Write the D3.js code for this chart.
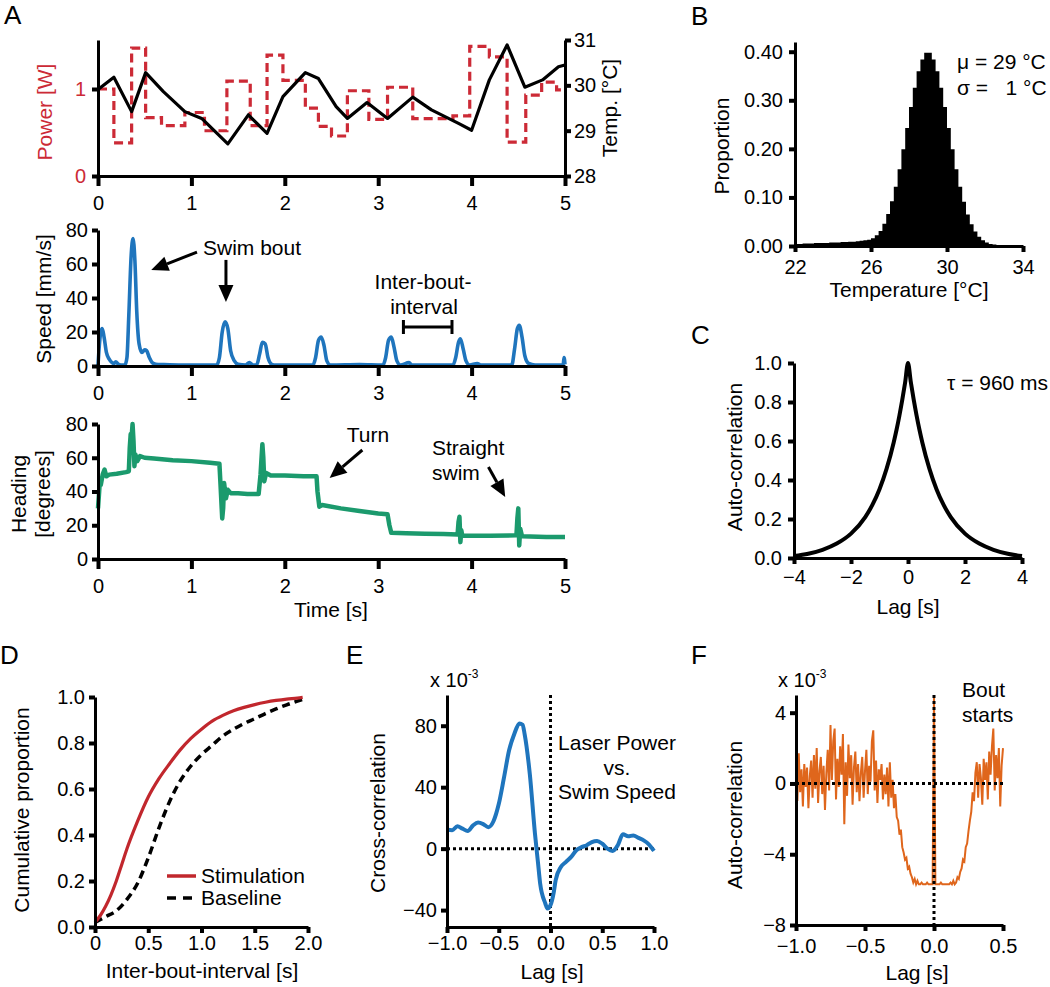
<!DOCTYPE html>
<html><head><meta charset="utf-8">
<script src="https://cdn.jsdelivr.net/npm/d3@7"></script>
<style>
body{margin:0;background:#fff}
svg text{font-family:"Liberation Sans",Arial,sans-serif}
</style></head><body>
<svg id="fig" width="1050" height="987"></svg>
<script>
// ---------------- DATA ----------------
// Panel A (top): laser power steps [time s, W] and temperature [time s, °C]
const powerSteps = [[0,1.0],[0.17,0.38],[0.36,1.47],[0.51,0.67],[0.68,0.58],[0.93,0.73],[1.14,0.52],[1.38,1.09],[1.63,0.58],[1.81,1.39],[1.98,1.10],[2.22,0.78],[2.36,0.57],[2.50,0.46],[2.67,0.98],[2.90,0.65],[3.10,1.02],[3.37,0.66],[3.80,0.69],[3.98,1.49],[4.19,1.37],[4.38,0.39],[4.58,0.93],[4.75,1.08],[4.91,0.99],[5.0,0.99]];
const temperature = [[0,29.91],[0.17,30.18],[0.36,29.42],[0.51,30.28],[0.70,29.86],[0.93,29.42],[1.11,29.27],[1.39,28.71],[1.61,29.35],[1.81,28.94],[1.98,29.75],[2.22,30.28],[2.36,30.15],[2.55,29.53],[2.67,29.27],[2.88,29.62],[3.10,29.27],[3.37,29.74],[3.57,29.46],[3.86,29.16],[4.00,29.01],[4.19,30.12],[4.38,30.89],[4.57,29.96],[4.76,30.12],[4.93,30.41],[5.00,30.45]];
// Panel A (middle): swim speed [time s, mm/s]
const speed = [[0,0.5],[0.01,9],[0.03,20],[0.045,22],[0.065,17],[0.09,8],[0.12,4],[0.15,2],[0.17,1.5],[0.19,2.5],[0.22,1],[0.26,0.5],[0.29,0.8],[0.31,5],[0.33,30],[0.355,65],[0.375,75],[0.395,62],[0.415,32],[0.44,13],[0.47,8],[0.5,9.5],[0.52,9],[0.55,5],[0.58,2],[0.62,1],[0.7,0.8],[0.9,0.5],[1.1,0.5],[1.27,0.5],[1.3,5],[1.33,20],[1.36,26],[1.39,22],[1.42,9],[1.46,3],[1.5,1],[1.58,0.5],[1.62,2],[1.66,0.5],[1.7,0.8],[1.73,7],[1.76,14],[1.79,13],[1.82,5],[1.86,1],[1.9,0.5],[2.3,0.5],[2.33,5],[2.36,15],[2.39,17],[2.42,12],[2.45,3],[2.49,0.5],[2.8,0.8],[3.05,0.5],[3.08,5],[3.11,15],[3.14,17],[3.17,11],[3.2,3],[3.24,0.5],[3.33,2],[3.36,0.5],[3.8,0.5],[3.83,5],[3.86,14],[3.88,16],[3.91,10],[3.94,3],[3.98,0.5],[4.06,1.5],[4.1,0.5],[4.43,0.5],[4.46,10],[4.49,22],[4.51,24],[4.54,17],[4.57,6],[4.61,1.5],[4.68,0.5],[4.98,0.5],[4.99,5],[5,1]];
// Panel A (bottom): heading [time s, degrees]
const heading = [[0,30],[0.01,38],[0.02,46],[0.03,44],[0.05,50],[0.07,53],[0.09,49],[0.12,50],[0.2,50.5],[0.3,51.5],[0.33,52],[0.34,66],[0.35,74],[0.36,72],[0.37,80],[0.38,70],[0.39,55],[0.4,62],[0.42,58],[0.45,61],[0.5,60],[0.6,59.5],[0.8,58.5],[1.0,58],[1.2,57],[1.3,56.5],[1.31,46],[1.33,24],[1.34,30],[1.35,45],[1.37,36],[1.39,41],[1.42,39],[1.5,39],[1.6,38.5],[1.72,38.5],[1.74,50],[1.76,68],[1.77,60],[1.78,46],[1.8,51],[1.85,49.5],[2.0,49.5],[2.2,49],[2.34,49],[2.35,40],[2.37,31],[2.4,32],[2.6,30],[2.8,28.5],[3.0,27],[3.1,26.5],[3.12,20],[3.14,15.5],[3.3,15.3],[3.5,15],[3.7,14.8],[3.85,14.5],[3.86,22],[3.87,25],[3.88,10],[3.89,17],[3.9,13.8],[4.2,13.8],[4.48,14],[4.49,24],[4.5,30],[4.51,8],[4.52,18],[4.54,13.5],[4.8,13],[5,13]];
// Panel B: temperature histogram, bin start (°C) and proportion (bin width 0.2 °C)
const histBinStart = [22.0,22.2,22.4,22.6,22.8,23.0,23.2,23.4,23.6,23.8,24.0,24.2,24.4,24.6,24.8,25.0,25.2,25.4,25.6,25.8,26.0,26.2,26.4,26.6,26.8,27.0,27.2,27.4,27.6,27.8,28.0,28.2,28.4,28.6,28.8,29.0,29.2,29.4,29.6,29.8,30.0,30.2,30.4,30.6,30.8,31.0,31.2,31.4,31.6,31.8,32.0,32.2,32.4,32.6,32.8,33.0,33.2,33.4,33.6,33.8];
const histProp = [0.004,0.004,0.005,0.005,0.005,0.006,0.006,0.006,0.006,0.007,0.007,0.007,0.008,0.008,0.009,0.009,0.010,0.011,0.012,0.013,0.016,0.022,0.031,0.046,0.066,0.092,0.122,0.158,0.199,0.243,0.286,0.326,0.360,0.384,0.398,0.398,0.384,0.360,0.326,0.286,0.243,0.199,0.158,0.122,0.091,0.065,0.045,0.030,0.019,0.012,0.007,0.004,0.003,0.002,0.001,0.001,0.001,0,0,0];
// Panel C: temperature auto-correlation [lag s, r]
const autoCorrC = [[-4,0.010],[-3.5,0.022],[-3,0.042],[-2.5,0.074],[-2,0.125],[-1.5,0.210],[-1.25,0.272],[-1,0.353],[-0.75,0.458],[-0.5,0.594],[-0.4,0.659],[-0.3,0.732],[-0.2,0.812],[-0.1,0.901],[0,1],[0.1,0.901],[0.2,0.812],[0.3,0.732],[0.4,0.659],[0.5,0.594],[0.75,0.458],[1,0.353],[1.25,0.272],[1.5,0.210],[2,0.125],[2.5,0.074],[3,0.042],[3.5,0.022],[4,0.010]];
// Panel D: cumulative inter-bout-interval distributions [s, proportion]
const stimulationCdf = [[0,0.02],[0.05,0.05],[0.1,0.09],[0.15,0.14],[0.2,0.2],[0.25,0.27],[0.3,0.34],[0.4,0.46],[0.5,0.565],[0.6,0.645],[0.7,0.71],[0.8,0.77],[0.9,0.82],[1.0,0.86],[1.1,0.895],[1.2,0.92],[1.3,0.94],[1.4,0.955],[1.5,0.967],[1.6,0.977],[1.7,0.985],[1.8,0.991],[1.9,0.995],[1.95,0.998]];
const baselineCdf = [[0,0.02],[0.1,0.045],[0.2,0.07],[0.3,0.12],[0.4,0.19],[0.5,0.3],[0.6,0.43],[0.7,0.545],[0.8,0.635],[0.9,0.7],[1.0,0.75],[1.1,0.79],[1.2,0.83],[1.3,0.86],[1.4,0.885],[1.5,0.906],[1.6,0.928],[1.7,0.948],[1.8,0.966],[1.9,0.982],[1.95,0.99]];
const legendD = ["Stimulation","Baseline"];
// Panel E: cross-correlation laser power vs swim speed [lag s, x1e-3]
const crossCorr = [[-1,12.3],[-0.95,12],[-0.9,14.5],[-0.85,13],[-0.8,11.5],[-0.75,15],[-0.7,17],[-0.65,16],[-0.6,14],[-0.55,18],[-0.5,29],[-0.45,46],[-0.4,64],[-0.35,74.6],[-0.3,81.5],[-0.27,80.6],[-0.25,74.6],[-0.2,48.6],[-0.15,9.7],[-0.12,-9.7],[-0.1,-22.7],[-0.05,-35.7],[-0.03,-39],[0,-36.8],[0.03,-29],[0.05,-20.5],[0.1,-12],[0.15,-8.6],[0.2,-5.4],[0.25,-1],[0.3,1],[0.35,2.2],[0.4,4.3],[0.45,5],[0.5,3.2],[0.55,0],[0.6,-1.5],[0.65,2.2],[0.7,9.3],[0.75,8],[0.8,8.6],[0.85,7],[0.9,5.4],[0.95,2.8],[1.0,-1.5]];
// Panel F: bout-start auto-correlation (x1e-3), lags -1.00 .. 0.50 in 0.01 s steps
const fLagStart = -1.0, fLagStep = 0.01;
const boutAutoCorr = [1.2,-1.0,1.7,-0.5,0.8,-1.3,1.1,-0.2,0.9,-1.4,
 0.4,1.3,-0.8,1.6,-0.3,2.0,-1.1,0.7,1.5,-0.6,
 1.0,-1.5,0.6,1.9,-0.4,3.3,0.2,2.4,3.1,-0.9,
 1.4,-0.2,2.1,0.5,2.8,-2.3,1.2,-0.7,2.2,0.3,
 1.6,-1.2,0.9,1.8,-0.5,1.1,-1.0,0.6,1.5,-0.8,
 0.7,1.9,-0.6,1.0,0.1,2.4,3.0,-0.4,1.3,-1.1,
 0.8,0.2,1.1,-0.9,0.5,-0.6,0.9,-1.3,1.2,-0.8,
 0.2,-1.4,-0.6,-1.9,-2.1,-2.9,-2.6,-3.6,-3.9,-4.3,
 -4.2,-4.8,-4.7,-5.1,-5.3,-5.6,-5.4,-5.7,-5.5,-5.7,
 -5.7,-5.6,-5.7,-5.7,-5.7,-5.6,-5.7,-5.7,-5.7,-5.7,
 5.0,
 -5.7,-5.7,-5.7,-5.7,-5.6,-5.7,-5.7,-5.7,-5.7,-5.7,
 -5.7,-5.6,-5.7,-5.5,-5.7,-5.6,-5.3,-5.4,-5.0,-4.8,
 -4.3,-4.4,-3.6,-3.4,-2.7,-2.1,-1.6,-0.5,-1.0,0.6,
 1.2,-0.8,1.1,0.3,-1.2,1.4,0.2,1.2,-0.9,1.8,
 0.5,2.1,3.1,-0.4,1.6,0.3,2.0,-1.3,1.0,2.0];
// Tick values
const timeTicks = [0,1,2,3,4,5];
const powerTicks = [0,1];
const tempTicks = [28,29,30,31];
const speedTicks = [0,20,40,60,80];
const headingTicks = [0,20,40,60,80];
const bXTicks = [22,26,30,34], bYTicks = [0,0.1,0.2,0.3,0.4];
const cXTicks = [-4,-2,0,2,4], cYTicks = [0,0.2,0.4,0.6,0.8,1.0];
const dXTicks = [0,0.5,1,1.5,2], dYTicks = [0,0.2,0.4,0.6,0.8,1.0];
const eXTicks = [-1,-0.5,0,0.5,1], eYTicks = [-40,0,40,80];
const fXTicks = [-1,-0.5,0,0.5], fYTicks = [-8,-4,0,4];

// ---------------- DRAWING ----------------
const FF = '"Liberation Sans", Arial, sans-serif';
const RED = "#cc2a36", BLUE = "#1f75bd", GREEN = "#1b9a6d", ORANGE = "#df661c", DRED = "#c1272d";
const svg = d3.select("#fig");
svg.append("rect").attr("width",1050).attr("height",987).attr("fill","#fff");
const fmtInt = d3.format("d");

function drawAxis(axis, tx, ty, color) {
  const g = svg.append("g").attr("transform", `translate(${tx},${ty})`).call(axis);
  g.attr("font-size", 20).attr("font-family", FF);
  g.select(".domain").attr("stroke", "#000").attr("stroke-width", 3);
  g.selectAll(".tick line").attr("stroke", "#000").attr("stroke-width", 4);
  g.selectAll(".tick text").attr("fill", color || "#000");
  return g;
}
function txt(x, y, s, o = {}) {
  return svg.append("text").attr("x", x).attr("y", y)
    .attr("font-size", o.size || 21).attr("fill", o.color || "#000")
    .attr("text-anchor", o.anchor || "start").style("white-space", "pre").text(s);
}
function ytitle(x, y, s, color) {
  svg.append("text").attr("transform", `translate(${x},${y}) rotate(-90)`)
    .attr("text-anchor", "middle").attr("dy", "0.35em")
    .attr("font-size", 21).attr("fill", color || "#000").text(s);
}
function arrow(x1, y1, x2, y2) {
  const a = Math.atan2(y2 - y1, x2 - x1), L = 17, W = 7.5;
  const bx = x2 - L * Math.cos(a), by = y2 - L * Math.sin(a);
  svg.append("line").attr("x1", x1).attr("y1", y1).attr("x2", bx).attr("y2", by)
    .attr("stroke", "#000").attr("stroke-width", 3);
  const p = [[x2, y2], [bx + W * Math.sin(a), by - W * Math.cos(a)], [bx - W * Math.sin(a), by + W * Math.cos(a)]];
  svg.append("path").attr("d", "M" + p.join("L") + "Z").attr("fill", "#000");
}
function sup(x, y) {
  const t = svg.append("text").attr("x", x).attr("y", y).attr("font-size", 20);
  t.append("tspan").text("x 10");
  t.append("tspan").attr("font-size", 12).attr("dy", -9).text("-3");
}
function letter(x, y, s) { txt(x, y, s, { size: 26 }); }

// ===== Panel A =====
const xA = d3.scaleLinear([0, 5], [98, 565]);
const yPow = d3.scaleLinear([0, 1], [176, 89]);
const yTemp = d3.scaleLinear([28, 31], [176, 40]);
const yPowAxis = d3.scaleLinear([0, 136 / 87], [176, 40]);
letter(4, 24, "A");

svg.append("path").datum(powerSteps)
  .attr("d", d3.line().x(d => xA(d[0])).y(d => yPow(d[1])).curve(d3.curveStepAfter))
  .attr("fill", "none").attr("stroke", RED).attr("stroke-width", 3.2).attr("stroke-dasharray", "9,5");
svg.append("path").datum(temperature)
  .attr("d", d3.line().x(d => xA(d[0])).y(d => yTemp(d[1])))
  .attr("fill", "none").attr("stroke", "#000").attr("stroke-width", 3.2).attr("stroke-linejoin", "round");
drawAxis(d3.axisBottom(xA).tickValues(timeTicks).tickFormat(fmtInt).tickSize(10).tickPadding(10).tickSizeOuter(0), 0, 176);
drawAxis(d3.axisLeft(yPowAxis).tickValues(powerTicks).tickFormat(fmtInt).tickSize(6).tickPadding(6).tickSizeOuter(0), 98, 0, RED);
drawAxis(d3.axisRight(yTemp).tickValues(tempTicks).tickFormat(fmtInt).tickSize(6).tickPadding(3).tickSizeOuter(0), 565, 0);
ytitle(45, 112, "Power [W]", RED);
ytitle(610, 108, "Temp. [°C]");

// speed
const ySpd = d3.scaleLinear([0, 80], [366, 230]);
svg.append("path").datum(speed)
  .attr("d", d3.line().x(d => xA(d[0])).y(d => ySpd(d[1])).curve(d3.curveMonotoneX))
  .attr("fill", "none").attr("stroke", BLUE).attr("stroke-width", 3.6).attr("stroke-linejoin", "round");
drawAxis(d3.axisBottom(xA).tickValues(timeTicks).tickFormat(fmtInt).tickSize(10).tickPadding(10).tickSizeOuter(0), 0, 366);
drawAxis(d3.axisLeft(ySpd).tickValues(speedTicks).tickSize(6).tickPadding(4).tickSizeOuter(0), 98, 0);
ytitle(44, 299, "Speed [mm/s]");
txt(203, 255, "Swim bout");
arrow(xA(1.06), ySpd(67), xA(0.57), ySpd(56.5));
arrow(xA(1.37), ySpd(62.4), xA(1.37), ySpd(37.6));
txt(423, 289, "Inter-bout-", { anchor: "middle" });
txt(424, 314, "interval", { anchor: "middle" });
const br = [3.27, 3.79], brY = ySpd(23);
svg.append("path").attr("d", `M${xA(br[0])},${brY}H${xA(br[1])}M${xA(br[0])},${brY - 7}V${brY + 7}M${xA(br[1])},${brY - 7}V${brY + 7}`)
  .attr("stroke", "#000").attr("stroke-width", 3).attr("fill", "none");

// heading
const yHead = d3.scaleLinear([0, 80], [559, 424]);
svg.append("path").datum(heading)
  .attr("d", d3.line().x(d => xA(d[0])).y(d => yHead(d[1])))
  .attr("fill", "none").attr("stroke", GREEN).attr("stroke-width", 4.5).attr("stroke-linejoin", "round");
drawAxis(d3.axisBottom(xA).tickValues(timeTicks).tickFormat(fmtInt).tickSize(10).tickPadding(10).tickSizeOuter(0), 0, 559);
drawAxis(d3.axisLeft(yHead).tickValues(headingTicks).tickSize(6).tickPadding(4).tickSizeOuter(0), 98, 0);
ytitle(19, 494, "Heading");
ytitle(43, 494, "[degrees]");
txt(331, 617, "Time [s]", { anchor: "middle" });
txt(368, 442, "Turn", { anchor: "middle" });
arrow(xA(2.83), yHead(64.6), xA(2.48), yHead(48));
txt(432, 455, "Straight");
txt(432, 480, "swim");
arrow(xA(4.18), yHead(54.5), xA(4.36), yHead(36.7));

// ===== Panel B =====
const xB = d3.scaleLinear([22, 34], [795, 1023]);
const yB = d3.scaleLinear([0, 0.42], [246, 42]);
letter(691, 25, "B");
const histPts = histBinStart.map((b, i) => [b, histProp[i]]).concat([[34, 0]]);
svg.append("path").datum(histPts)
  .attr("d", d3.area().x(d => xB(d[0])).y0(yB(0)).y1(d => yB(d[1])).curve(d3.curveStepAfter))
  .attr("fill", "#000");
drawAxis(d3.axisBottom(xB).tickValues(bXTicks).tickSize(6).tickPadding(8).tickSizeOuter(0), 0, 246);
drawAxis(d3.axisLeft(yB).tickValues(bYTicks).tickFormat(d3.format(".2f")).tickSize(6).tickPadding(6).tickSizeOuter(0), 795, 0);
ytitle(722, 146, "Proportion");
txt(909, 297, "Temperature [°C]", { anchor: "middle" });
txt(957, 69, "μ = 29 °C");
txt(957, 95, "σ =   1 °C");

// ===== Panel C =====
const xC = d3.scaleLinear([-4, 4], [794, 1022]);
const yC = d3.scaleLinear([0, 1], [558, 363]);
letter(691, 344, "C");
svg.append("path").datum(autoCorrC)
  .attr("d", d3.line().x(d => xC(d[0])).y(d => yC(d[1])).curve(d3.curveMonotoneX))
  .attr("fill", "none").attr("stroke", "#000").attr("stroke-width", 4).attr("stroke-linejoin", "round");
drawAxis(d3.axisBottom(xC).tickValues(cXTicks).tickFormat(fmtInt).tickSize(6).tickPadding(6).tickSizeOuter(0), 0, 558);
drawAxis(d3.axisLeft(yC).tickValues(cYTicks).tickFormat(d3.format(".1f")).tickSize(6).tickPadding(6).tickSizeOuter(0), 794, 0);
ytitle(735, 457, "Auto-correlation");
txt(908, 614, "Lag [s]", { anchor: "middle" });
txt(947, 390, "τ = 960 ms");

// ===== Panel D =====
const xD = d3.scaleLinear([0, 2], [95, 308]);
const yD = d3.scaleLinear([0, 1], [927, 697]);
letter(0, 664, "D");
svg.append("path").datum(baselineCdf)
  .attr("d", d3.line().x(d => xD(d[0])).y(d => yD(d[1])).curve(d3.curveMonotoneX))
  .attr("fill", "none").attr("stroke", "#000").attr("stroke-width", 3.5).attr("stroke-dasharray", "8,5");
svg.append("path").datum(stimulationCdf)
  .attr("d", d3.line().x(d => xD(d[0])).y(d => yD(d[1])).curve(d3.curveMonotoneX))
  .attr("fill", "none").attr("stroke", DRED).attr("stroke-width", 3.2);
drawAxis(d3.axisBottom(xD).tickValues(dXTicks).tickFormat(d => d === 0 ? "0" : d3.format(".1f")(d)).tickSize(6).tickPadding(3).tickSizeOuter(0), 0, 927);
drawAxis(d3.axisLeft(yD).tickValues(dYTicks).tickFormat(d3.format(".1f")).tickSize(6).tickPadding(4).tickSizeOuter(0), 95, 0);
ytitle(22, 810, "Cumulative proportion");
txt(202, 978, "Inter-bout-interval [s]", { anchor: "middle" });
legendD.forEach((name, i) => {
  const ly = 876 + i * 22;
  svg.append("line").attr("x1", 167).attr("x2", 196).attr("y1", ly).attr("y2", ly)
    .attr("stroke", i === 0 ? DRED : "#000").attr("stroke-width", 3.5)
    .attr("stroke-dasharray", i === 0 ? null : "9,7");
  txt(201, ly + 7, name);
});

// ===== Panel E =====
const xE = d3.scaleLinear([-1, 1], [447, 654]);
const yE = d3.scaleLinear([-51, 100], [927, 695]);
letter(346, 664, "E");
svg.append("line").attr("x1", xE(-1)).attr("x2", xE(1)).attr("y1", yE(0)).attr("y2", yE(0))
  .attr("stroke", "#000").attr("stroke-width", 3).attr("stroke-dasharray", "3,3");
svg.append("line").attr("x1", xE(0)).attr("x2", xE(0)).attr("y1", yE(100)).attr("y2", yE(-51))
  .attr("stroke", "#000").attr("stroke-width", 3).attr("stroke-dasharray", "3,3");
svg.append("path").datum(crossCorr)
  .attr("d", d3.line().x(d => xE(d[0])).y(d => yE(d[1])).curve(d3.curveMonotoneX))
  .attr("fill", "none").attr("stroke", BLUE).attr("stroke-width", 4).attr("stroke-linejoin", "round");
drawAxis(d3.axisBottom(xE).tickValues(eXTicks).tickFormat(d3.format(".1f")).tickSize(6).tickPadding(3).tickSizeOuter(0), 0, 927);
drawAxis(d3.axisLeft(yE).tickValues(eYTicks).tickSize(6).tickPadding(4).tickSizeOuter(0), 447, 0);
ytitle(378, 813, "Cross-correlation");
txt(552, 979, "Lag [s]", { anchor: "middle" });
sup(430, 687);
txt(617, 750, "Laser Power", { anchor: "middle" });
txt(617, 775, "vs.", { anchor: "middle" });
txt(617, 799, "Swim Speed", { anchor: "middle" });

// ===== Panel F =====
const xF = d3.scaleLinear([-1, 0.5], [796, 1003]);
const yF = d3.scaleLinear([-8, 5], [925, 695]);
letter(691, 664, "F");
const fPts = boutAutoCorr.map((v, i) => [fLagStart + i * fLagStep, v]);
svg.append("path").datum(fPts)
  .attr("d", d3.line().x(d => xF(d[0])).y(d => yF(d[1])))
  .attr("fill", "none").attr("stroke", ORANGE).attr("stroke-width", 2);
svg.append("line").attr("x1", xF(-1)).attr("x2", xF(0.5)).attr("y1", yF(0)).attr("y2", yF(0))
  .attr("stroke", "#000").attr("stroke-width", 3).attr("stroke-dasharray", "3,3");
svg.append("line").attr("x1", xF(0)).attr("x2", xF(0)).attr("y1", yF(5)).attr("y2", yF(-8))
  .attr("stroke", "#000").attr("stroke-width", 3).attr("stroke-dasharray", "3,3");
drawAxis(d3.axisBottom(xF).tickValues(fXTicks).tickFormat(d3.format(".1f")).tickSize(6).tickPadding(8).tickSizeOuter(0), 0, 925);
drawAxis(d3.axisLeft(yF).tickValues(fYTicks).tickSize(6).tickPadding(4).tickSizeOuter(0), 796, 0);
ytitle(735, 815, "Auto-correlation");
txt(917, 980, "Lag [s]", { anchor: "middle" });
sup(778, 687);
txt(962, 697, "Bout");
txt(962, 722, "starts");
</script>
</body></html>
